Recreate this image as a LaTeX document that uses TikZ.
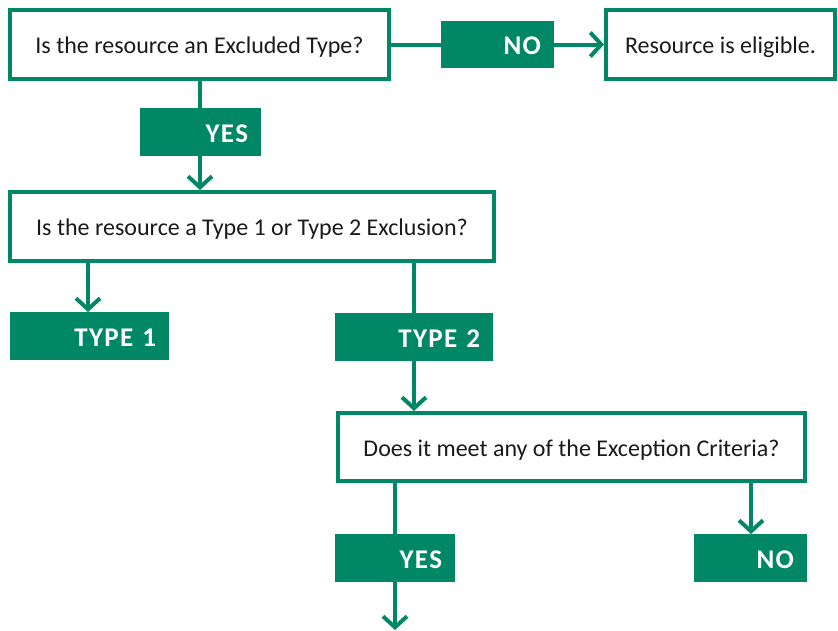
\documentclass[tikz,border=0pt]{standalone}
\usepackage{fontspec}
\setmainfont{Carlito}
\newfontfamily\lblfont[LetterSpace=5]{Carlito}
\usetikzlibrary{arrows.meta}
\definecolor{G}{HTML}{008866}
\definecolor{T}{HTML}{1A1A1A}
\begin{document}
\begin{tikzpicture}[x=1pt,y=-1pt,
  qbox/.style={draw=G, line width=4pt, fill=white, text=T, font=\fontsize{24}{28}\selectfont, inner sep=0pt, minimum height=69pt, text height=18pt, text depth=0pt},
  lbl/.style={fill=G, text=white, font=\lblfont\bfseries\fontsize{27}{30}\selectfont, inner xsep=13pt, inner ysep=0pt, minimum height=48pt, align=right, outer sep=0pt, text height=20pt, text depth=0pt},
  conn/.style={draw=G, line width=4pt},
  arr/.style={conn, -{Straight Barb[length=11pt,width=24pt]}}]
\useasboundingbox (0,0) rectangle (838,630);
\node[qbox, minimum width=379pt] (q1) at (199.5,44.5) {Is the resource an Excluded Type?};
\node[qbox, minimum width=229pt] (elig) at (720.5,44.5) {Resource is eligible.};
\node[qbox, minimum width=484pt] (q2) at (252,226.5) {Is the resource a Type 1 or Type 2 Exclusion?};
\node[qbox, minimum width=467pt, minimum height=68pt] (q3) at (571.5,447) {Does it meet any of the Exception Criteria?};
\node[lbl, text width=87pt, minimum height=47pt] (no1) at (497.5,44.5) {NO};
\node[lbl, text width=95pt] (yes1) at (200.5,132) {YES};
\node[lbl, text width=133pt] (t1) at (89.5,336) {TYPE 1};
\node[lbl, text width=132pt] (t2) at (414,337) {TYPE 2};
\node[lbl, text width=94pt] (yes2) at (395,558) {YES};
\node[lbl, text width=87pt] (no2) at (750.5,558) {NO};
\coordinate (end) at (395,630);
\draw[conn] (q1.east) -- (no1.west);
\draw[arr] (no1.east) -- (elig.west);
\draw[conn] (q1.south -| 200,0) -- (200,108);
\draw[arr] (200,156) -- (q2.north -| 200,0);
\draw[arr] (q2.south -| 88,0) -- (88,312);
\draw[conn] (q2.south -| t2.north) -- (t2.north);
\draw[arr] (t2.south) -- (q3.north -| t2.south);
\draw[conn] (q3.south -| yes2.north) -- (yes2.north);
\draw[arr] (yes2.south) -- (end);
\draw[arr] (q3.south -| 751,0) -- (no2.north -| 751,0);
\end{tikzpicture}
\end{document}
